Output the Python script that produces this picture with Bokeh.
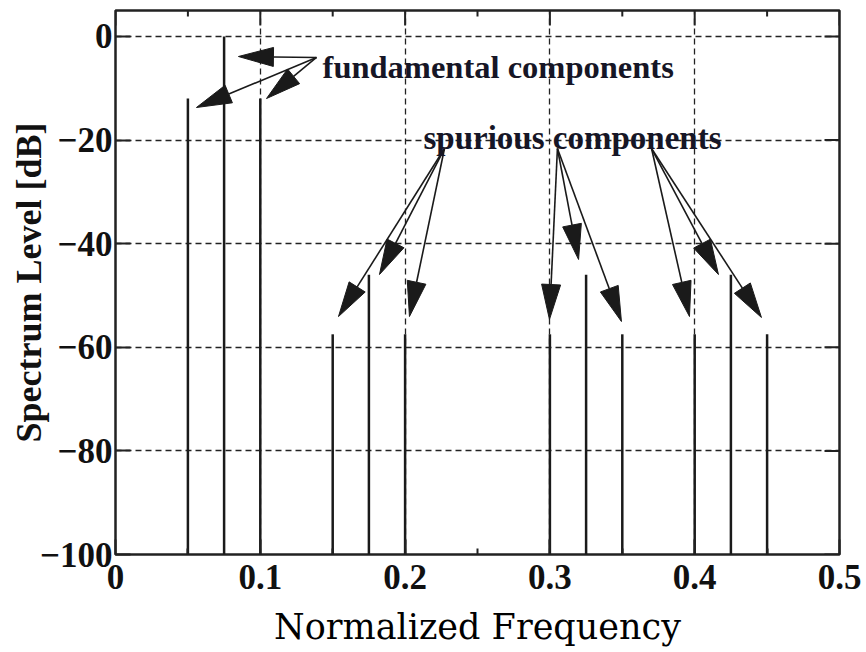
import numpy as np
from bokeh.plotting import figure
from bokeh.models import FixedTicker, Range1d
from bokeh.core.properties import value
from bokeh.embed import file_html
from bokeh.resources import INLINE

# Spectrum lines: normalized frequency and level in dB
fund_freq = [0.05, 0.075, 0.1]
fund_level = [-12, 0, -12]
spur_freq = [0.15, 0.175, 0.2, 0.3, 0.325, 0.35, 0.4, 0.425, 0.45]
spur_level = [-57.5, -46, -57.5, -57.5, -46, -57.5, -57.5, -46, -57.5]

x_ticks = [0, 0.1, 0.2, 0.3, 0.4, 0.5]
x_tick_labels = ["0", "0.1", "0.2", "0.3", "0.4", "0.5"]
x_minor = [0.05, 0.15, 0.25, 0.35, 0.45]
y_ticks = [-100, -80, -60, -40, -20, 0]
y_tick_labels = ["\u2212100", "\u221280", "\u221260", "\u221240", "\u221220", "0"]

# Annotation labels and their arrows (start point, end points)
fund_label = "fundamental components"
fund_label_pos = (0.143, -6.0)
fund_arrow_from = (0.1388, -4.07)
fund_arrow_to_x = [0.0849, 0.0559, 0.1043]
fund_arrow_to_y = [-3.88, -13.72, -11.99]

spur_label = "spurious components"
spur_label_pos = (0.3156, -19.7)
spur_arrow_from_x = [0.2272, 0.2272, 0.2272, 0.3052, 0.3052, 0.3052, 0.3702, 0.3702, 0.3702]
spur_arrow_from_y = [-21.64] * 9
spur_arrow_to_x = [0.1540, 0.1823, 0.2030, 0.2997, 0.3198, 0.3494, 0.3964, 0.4164, 0.4461]
spur_arrow_to_y = [-54.07, -45.96, -54.07, -54.64, -43.06, -55.03, -54.07, -45.96, -54.25]

X_RANGE = (0, 0.5)
Y_RANGE = (-100, 5)
FRAME_W, FRAME_H = 724, 544

p = figure(width=866, height=652, frame_width=FRAME_W, frame_height=FRAME_H,
           x_range=Range1d(*X_RANGE), y_range=Range1d(*Y_RANGE),
           output_backend="svg", toolbar_location=None,
           min_border_left=115, min_border_right=27,
           min_border_top=10, min_border_bottom=98)
p.background_fill_color = "white"
p.border_fill_color = "white"
p.outline_line_color = "#222222"
p.outline_line_width = 2.5

tick_font = "Liberation Serif"
ink = "#1a1a1a"

# bottom axis
xa = p.xaxis[0]
xa.ticker = FixedTicker(ticks=x_ticks, minor_ticks=x_minor)
xa.major_label_overrides = {t: l for t, l in zip(x_ticks, x_tick_labels)}
xa.axis_label = "Normalized Frequency"
xa.axis_label_text_font = "DejaVu Serif"
xa.axis_label_text_font_style = "normal"
xa.axis_label_text_font_size = "35px"
xa.axis_label_text_color = "black"
xa.axis_label_standoff = 15
xa.major_label_standoff = 10

# left axis
ya = p.yaxis[0]
ya.ticker = FixedTicker(ticks=y_ticks, minor_ticks=[])
ya.major_label_overrides = {t: l for t, l in zip(y_ticks, y_tick_labels)}
ya.axis_label = "Spectrum Level [dB]"
ya.axis_label_text_font = tick_font
ya.axis_label_text_font_style = "bold"
ya.axis_label_text_font_size = "36px"
ya.axis_label_text_color = "#111111"
ya.axis_label_standoff = -12
ya.major_label_standoff = 3

for ax in (xa, ya):
    ax.major_label_text_font = tick_font
    ax.major_label_text_font_style = "bold"
    ax.major_label_text_font_size = "35px"
    ax.major_label_text_color = "#111111"
    ax.axis_line_color = None
    ax.major_tick_in = 15
    ax.major_tick_out = 0
    ax.minor_tick_in = 6
    ax.minor_tick_out = 0
    ax.major_tick_line_color = "#222222"
    ax.major_tick_line_width = 2
    ax.minor_tick_line_color = "#222222"
    ax.minor_tick_line_width = 2

# dashed grid
p.xgrid.ticker = FixedTicker(ticks=x_ticks[1:-1])
p.ygrid.ticker = FixedTicker(ticks=y_ticks[1:])
for g in (p.xgrid[0], p.ygrid[0]):
    g.grid_line_color = "#222222"
    g.grid_line_width = 1.3
    g.grid_line_dash = "6 4"

px_x = FRAME_W / (X_RANGE[1] - X_RANGE[0])
px_y = FRAME_H / (Y_RANGE[1] - Y_RANGE[0])

# mirrored inward ticks on the top and right edges of the box
top_y = Y_RANGE[1]
p.segment(x0=x_ticks, y0=[top_y] * len(x_ticks), x1=x_ticks,
          y1=[top_y - 15 / px_y] * len(x_ticks), line_color="#222222", line_width=2)
p.segment(x0=x_minor, y0=[top_y] * len(x_minor), x1=x_minor,
          y1=[top_y - 6 / px_y] * len(x_minor), line_color="#222222", line_width=2)
right_x = X_RANGE[1]
p.segment(x0=[right_x] * len(y_ticks), y0=y_ticks, x1=[right_x - 15 / px_x] * len(y_ticks),
          y1=y_ticks, line_color="#222222", line_width=2)

# spectrum stems
all_freq = fund_freq + spur_freq
all_level = fund_level + spur_level
p.segment(x0=all_freq, y0=[Y_RANGE[0]] * len(all_freq), x1=all_freq, y1=all_level,
          line_color=ink, line_width=2.5)

# arrows: shaft plus a slender filled head, sized in screen pixels
HEAD_LEN, HEAD_HALF = 35.0, 9.5


def arrows(x0s, y0s, x1s, y1s):
    sx0, sy0, sx1, sy1, hx, hy = [], [], [], [], [], []
    for x0, y0, x1, y1 in zip(x0s, y0s, x1s, y1s):
        dx, dy = (x1 - x0) * px_x, (y1 - y0) * px_y
        L = np.hypot(dx, dy)
        ux, uy = dx / L, dy / L
        bx, by = x1 - ux * HEAD_LEN / px_x, y1 - uy * HEAD_LEN / px_y
        nx, ny = -uy * HEAD_HALF, ux * HEAD_HALF
        sx0.append(x0); sy0.append(y0); sx1.append(bx); sy1.append(by)
        hx.append([x1, bx + nx / px_x, bx - nx / px_x])
        hy.append([y1, by + ny / px_y, by - ny / px_y])
    p.segment(x0=sx0, y0=sy0, x1=sx1, y1=sy1, line_color=ink, line_width=1.6)
    p.patches(xs=hx, ys=hy, fill_color=ink, line_color=ink, line_width=1)


arrows([fund_arrow_from[0]] * 3, [fund_arrow_from[1]] * 3, fund_arrow_to_x, fund_arrow_to_y)
arrows(spur_arrow_from_x, spur_arrow_from_y, spur_arrow_to_x, spur_arrow_to_y)

p.text(x=[fund_label_pos[0]], y=[fund_label_pos[1]], text=[fund_label],
       text_font=value(tick_font), text_font_style="bold", text_font_size="32.5px",
       text_color="#161626", text_align="left", text_baseline="alphabetic")
p.text(x=[spur_label_pos[0]], y=[spur_label_pos[1]], text=[spur_label],
       text_font=value(tick_font), text_font_style="bold", text_font_size="33px",
       text_color="#161626", text_align="center", text_baseline="alphabetic")

open("out.html", "w").write(file_html(p, INLINE))
